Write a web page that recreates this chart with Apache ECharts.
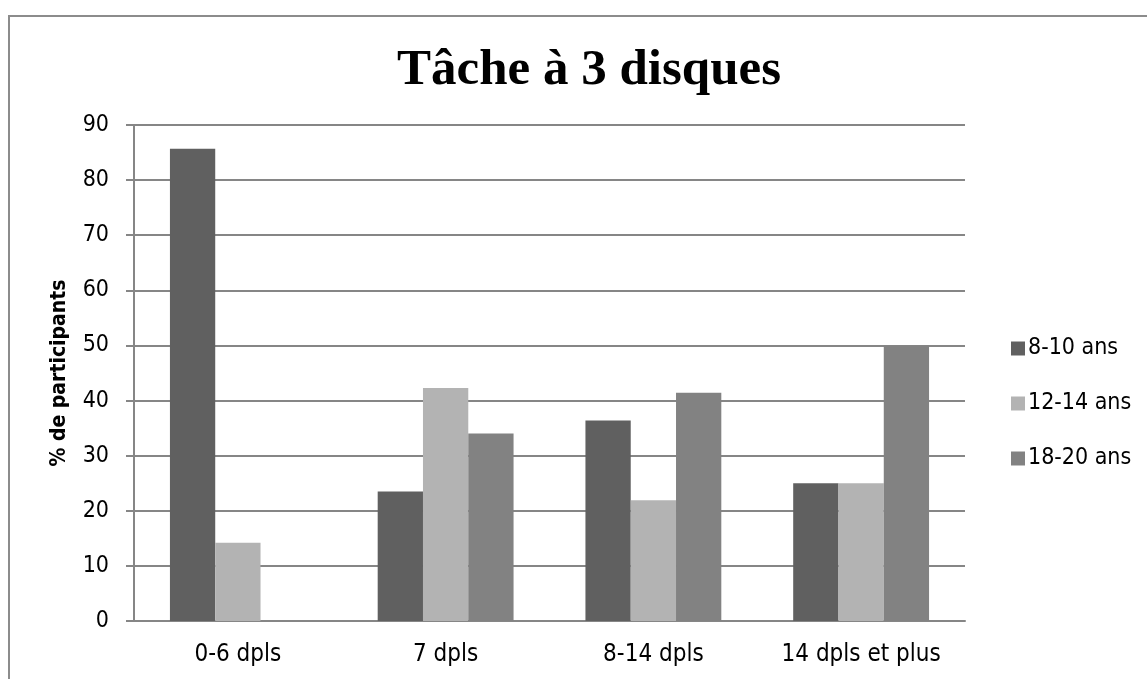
<!DOCTYPE html>
<html><head><meta charset="utf-8">
<script src="https://cdn.jsdelivr.net/npm/echarts@6/dist/echarts.min.js"></script>
<style>
html,body{margin:0;padding:0;background:#fff;}
#frame{position:absolute;left:8px;top:15px;width:1200px;height:700px;border-left:2px solid #8c8c8c;border-top:2px solid #8c8c8c;}
#c{position:absolute;left:0;top:0;width:1147px;height:679px;}
</style></head>
<body>
<div id="frame"></div>
<div id="c"></div>
<script>
const categories = ['0-6 dpls', '7 dpls', '8-14 dpls', '14 dpls et plus'];
const seriesNames = ['8-10 ans', '12-14 ans', '18-20 ans'];
const s810 = [85.7, 23.5, 36.4, 25];
const s1214 = [14.2, 42.3, 21.9, 25];
const s1820 = [0, 34.0, 41.4, 50];
const colors = ['#606060', '#b3b3b3', '#828282'];
const yTicks = {min: 0, max: 90, interval: 10};

const font = '"DejaVu Sans Condensed", "Liberation Sans", sans-serif';
const chart = echarts.init(document.getElementById('c'));
const data = [s810, s1214, s1820];
chart.setOption({
  animation: false,
  title: {
    text: 'Tâche à 3 disques', left: 584, top: 40, textAlign: 'center',
    textStyle: {fontFamily: '"Liberation Serif", serif', fontWeight: 'bold', fontSize: 51, color: '#000'}
  },
  legend: {
    orient: 'vertical', left: 1006, top: 332, itemGap: 32, itemWidth: 14, itemHeight: 14,
    icon: 'rect',
    textStyle: {fontFamily: font, fontSize: 23, color: '#000', padding: [0, 0, 0, -2]},
    data: seriesNames
  },
  grid: {left: 134, right: 182, top: 125, bottom: 58, containLabel: false},
  xAxis: {
    type: 'category', data: categories,
    axisLine: {lineStyle: {color: '#868686', width: 2}},
    axisTick: {show: false},
    axisLabel: {fontFamily: font, fontSize: 24, color: '#000', margin: 22}
  },
  yAxis: {
    type: 'value', min: yTicks.min, max: yTicks.max, interval: yTicks.interval,
    name: '% de participants', nameLocation: 'middle', nameGap: 64, nameRotate: 90,
    nameTextStyle: {fontFamily: font, fontSize: 21, fontWeight: 'bold', color: '#000'},
    axisLine: {show: true, lineStyle: {color: '#868686', width: 2}},
    axisTick: {show: true, inside: false, length: 8, lineStyle: {color: '#868686', width: 2}},
    axisLabel: {fontFamily: font, fontSize: 23, color: '#000', margin: 25},
    splitLine: {lineStyle: {color: '#868686', width: 2}}
  },
  series: seriesNames.map((n, i) => ({
    name: n, type: 'bar', data: data[i],
    barGap: '0%', barCategoryGap: '34.6%',
    itemStyle: {color: colors[i]}
  }))
});
</script>
</body></html>
